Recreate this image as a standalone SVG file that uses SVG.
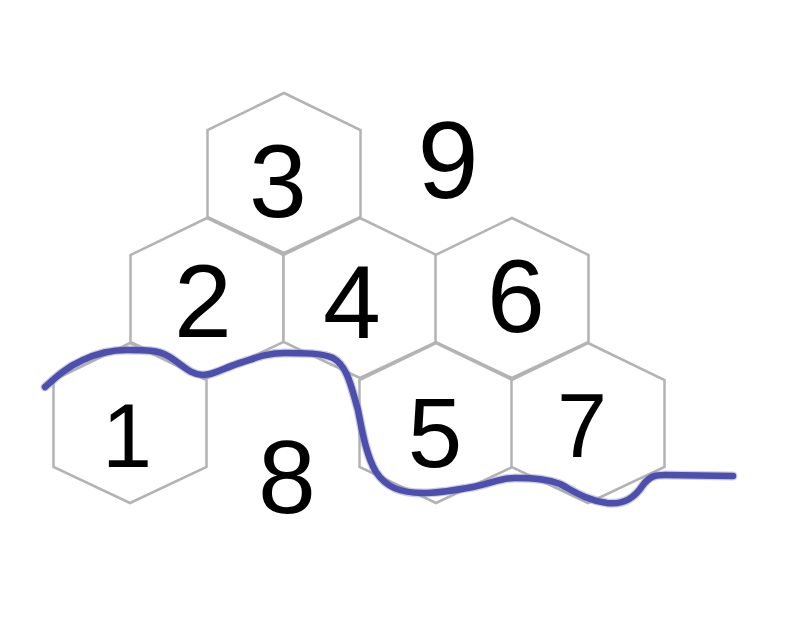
<svg xmlns="http://www.w3.org/2000/svg" xmlns:xlink="http://www.w3.org/1999/xlink" width="804" height="622" viewBox="0 0 804 622">
<style>
.hex{fill:#ffffff;stroke:#b3b3b3;stroke-width:2.5;stroke-linejoin:miter}
.num{font-family:"Liberation Sans",Arial,sans-serif;font-size:104px;fill:#000;text-anchor:middle}
.river{fill:none;stroke:#4d4fa8;stroke-width:6.5;stroke-linecap:round;stroke-linejoin:round}
.halo{fill:none;stroke:#9a9cd6;stroke-width:9;stroke-linecap:round;stroke-linejoin:round;opacity:0.5}
</style>
<defs>
<polygon id="hexshape" points="0,-80 76.5,-43 76.5,44 0,80 -76.5,44 -76.5,-43"/>
</defs>
<rect width="804" height="622" fill="#ffffff"/>
<g id="hex3"><use xlink:href="#hexshape" href="#hexshape" class="hex" x="284" y="173"/><text class="num" x="278" y="217">3</text></g>
<g id="hex2"><use xlink:href="#hexshape" href="#hexshape" class="hex" x="207" y="298"/><text class="num" x="203" y="337">2</text></g>
<g id="hex4"><use xlink:href="#hexshape" href="#hexshape" class="hex" x="360" y="298"/><text class="num" x="352" y="338">4</text></g>
<g id="hex6"><use xlink:href="#hexshape" href="#hexshape" class="hex" x="512" y="298"/><text class="num" x="516" y="332">6</text></g>
<g id="hex1"><use xlink:href="#hexshape" href="#hexshape" class="hex" x="130" y="423"/><text class="num" x="127" y="467" style="font-size:90px">1</text></g>
<g id="hex5"><use xlink:href="#hexshape" href="#hexshape" class="hex" x="436" y="423"/><text class="num" x="435" y="467" style="font-size:98px">5</text></g>
<g id="hex7"><use xlink:href="#hexshape" href="#hexshape" class="hex" x="588" y="423"/><text class="num" x="582" y="457" style="font-size:90px">7</text></g>
<g id="label8"><text class="num" x="287" y="513">8</text></g>
<g id="label9"><text class="num" x="448" y="198" style="font-size:110px">9</text></g>
<g id="connectors">
<path class="halo" d="M45,387 C55,378 65,368 83,360 C100,352 115,350 127,350 C145,350 158,350 168,356 C182,364 190,375 203,375 C215,375 225,367 243,362 C258,357 268,353 285,353 C305,353 322,353 333,358 C348,366 352,390 358,410 C362,430 366,455 376,472 C386,487 400,493 423,493 C440,493 455,490 473,487 C490,484 500,478 515,478 C535,478 548,479 560,484 C572,490 585,500 607,503 C625,505 635,497 643,485 C650,476 655,475 665,475 L733,476"/>
<path class="river" d="M45,387 C55,378 65,368 83,360 C100,352 115,350 127,350 C145,350 158,350 168,356 C182,364 190,375 203,375 C215,375 225,367 243,362 C258,357 268,353 285,353 C305,353 322,353 333,358 C348,366 352,390 358,410 C362,430 366,455 376,472 C386,487 400,493 423,493 C440,493 455,490 473,487 C490,484 500,478 515,478 C535,478 548,479 560,484 C572,490 585,500 607,503 C625,505 635,497 643,485 C650,476 655,475 665,475 L733,476"/>
</g>
</svg>
